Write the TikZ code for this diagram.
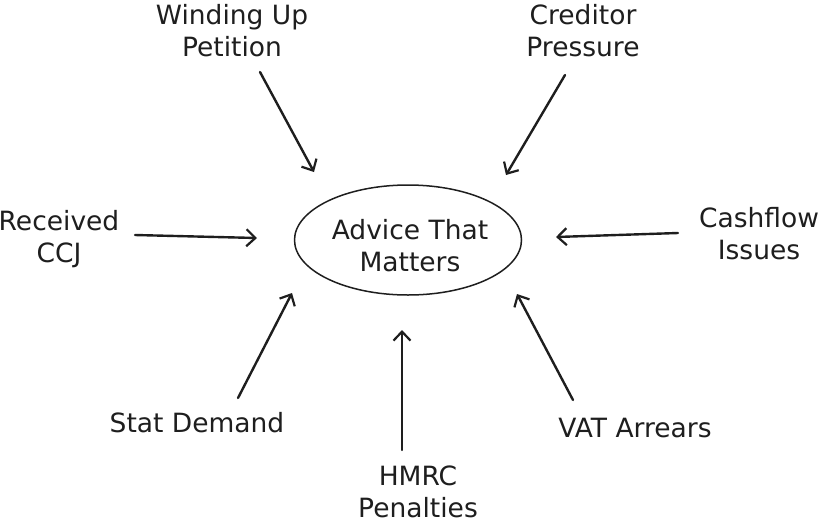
\documentclass[tikz,border=0pt]{standalone}
\usepackage{fontspec}
\setmainfont{DejaVu Sans}
\usetikzlibrary{arrows.meta,shapes.geometric}
\definecolor{ink}{HTML}{1E1E1E}
\begin{document}
\begin{tikzpicture}[x=1pt,y=-1pt,
  lbl/.style={font=\fontsize{26.5}{32}\selectfont, align=center, text=ink, inner sep=0pt},
  arr/.style={draw=ink, line width=2.4pt, line cap=round, -{Straight Barb[length=9pt,width=17pt,line width=2.2pt]}}]
\useasboundingbox (0,0) rectangle (821,523);
\node[ellipse, draw=ink, line width=1.5pt, minimum width=227pt, minimum height=110pt, inner sep=0pt] (hub) at (408,240) {};
\node[lbl] (hubtxt) at (410,246) {Advice That\\Matters};
\node[lbl] (wind) at (232,31) {Winding Up\\Petition};
\node[lbl] (cred) at (583,31) {Creditor\\Pressure};
\node[lbl] (ccj) at (59,239) {Received\\CCJ};
\node[lbl] (cash) at (759,234) {Cashflow\\Issues};
\node[lbl] (stat) at (197,423) {Stat Demand};
\node[lbl] (hmrc) at (418,492) {HMRC\\Penalties};
\node[lbl] (vat) at (635,428) {VAT Arrears};
\coordinate (w1) at (260,72);  \coordinate (w2) at (314,172);
\coordinate (c1) at (565,75);  \coordinate (c2) at (506,175);
\coordinate (r1) at (135,235); \coordinate (r2) at (257,238);
\coordinate (f1) at (678,233); \coordinate (f2) at (556,237);
\coordinate (s1) at (238,398); \coordinate (s2) at (292,293);
\coordinate (h1) at (402,450); \coordinate (h2) at (402,330);
\coordinate (v1) at (573,400); \coordinate (v2) at (517,294);
\draw[arr] (w1) -- (w2);
\draw[arr] (c1) -- (c2);
\draw[arr] (r1) -- (r2);
\draw[arr] (f1) -- (f2);
\draw[arr] (s1) -- (s2);
\draw[arr] (h1) -- (h2);
\draw[arr] (v1) -- (v2);
\end{tikzpicture}
\end{document}
